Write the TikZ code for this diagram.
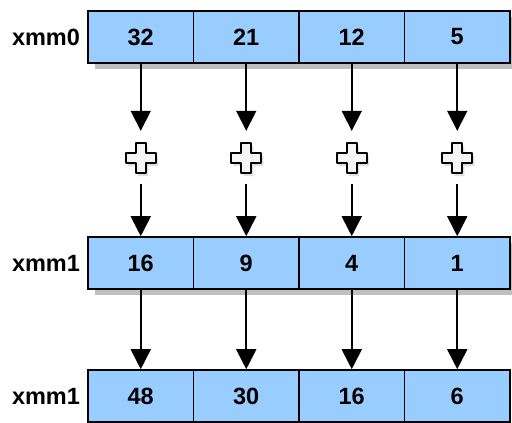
\documentclass[tikz,border=0pt]{standalone}
\usepackage{fontspec}
\setmainfont{Liberation Sans}
\usetikzlibrary{arrows.meta,calc}
\definecolor{cellblue}{HTML}{99CCFF}
\definecolor{shadowgray}{HTML}{BFBFBF}
\tikzset{
  cell/.style={draw=black,line width=1.6pt,fill=cellblue,minimum width=105.5pt,minimum height=52pt,inner sep=0pt,font=\fontsize{23.5}{26}\selectfont\bfseries},
  reglabel/.style={font=\fontsize{23.5}{26}\selectfont\bfseries,anchor=center},
  flow/.style={line width=1.8pt,-{Triangle[width=20pt,length=20pt]}},
  plusmark/.style={inner sep=0pt,minimum size=30pt},
}
\begin{document}
\begin{tikzpicture}[x=1pt,y=-1pt]
\useasboundingbox (0,0) rectangle (512,423);
% shadows of rows
\fill[shadowgray] (95,17) rectangle (512,69);
\fill[shadowgray] (95,243) rectangle (512,295);
% rows
\foreach \v [count=\i] in {32,21,12,5}{
  \node[cell] (a\i) at ({88+105.5*(\i-0.5)},37) {\v};
}
\foreach \v [count=\i] in {16,9,4,1}{
  \node[cell] (b\i) at ({88+105.5*(\i-0.5)},263) {\v};
}
\foreach \v [count=\i] in {48,30,16,6}{
  \node[cell] (c\i) at ({88+105.5*(\i-0.5)},396) {\v};
}
\node[reglabel] (la) at (46,37) {xmm0};
\node[reglabel] (lb) at (46,263) {xmm1};
\node[reglabel] (lc) at (46,396) {xmm1};
% plus marks
\foreach \i in {1,2,3,4}{
  \node[plusmark] (p\i) at ($(a\i)+(0,121)$) {};
  \fill[black,opacity=0.12] ($(p\i)+(-3,-12)$) -- ++(10,0) -- ++(0,10) -- ++(10,0) -- ++(0,10) -- ++(-10,0) -- ++(0,10) -- ++(-10,0) -- ++(0,-10) -- ++(-10,0) -- ++(0,-10) -- ++(10,0) -- cycle;
  \draw[line width=2pt,fill=gray!8,line join=round] ($(p\i)+(-5,-15)$) -- ++(10,0) -- ++(0,10) -- ++(10,0) -- ++(0,10) -- ++(-10,0) -- ++(0,10) -- ++(-10,0) -- ++(0,-10) -- ++(-10,0) -- ++(0,-10) -- ++(10,0) -- cycle;
  \draw[flow] (a\i.south) -- ($(p\i.north)+(0,-12)$);
  \draw[flow,shorten <=11pt] (p\i.south) -- (b\i.north);
  \draw[flow] (b\i.south) -- (c\i.north);
}
\end{tikzpicture}
\end{document}
